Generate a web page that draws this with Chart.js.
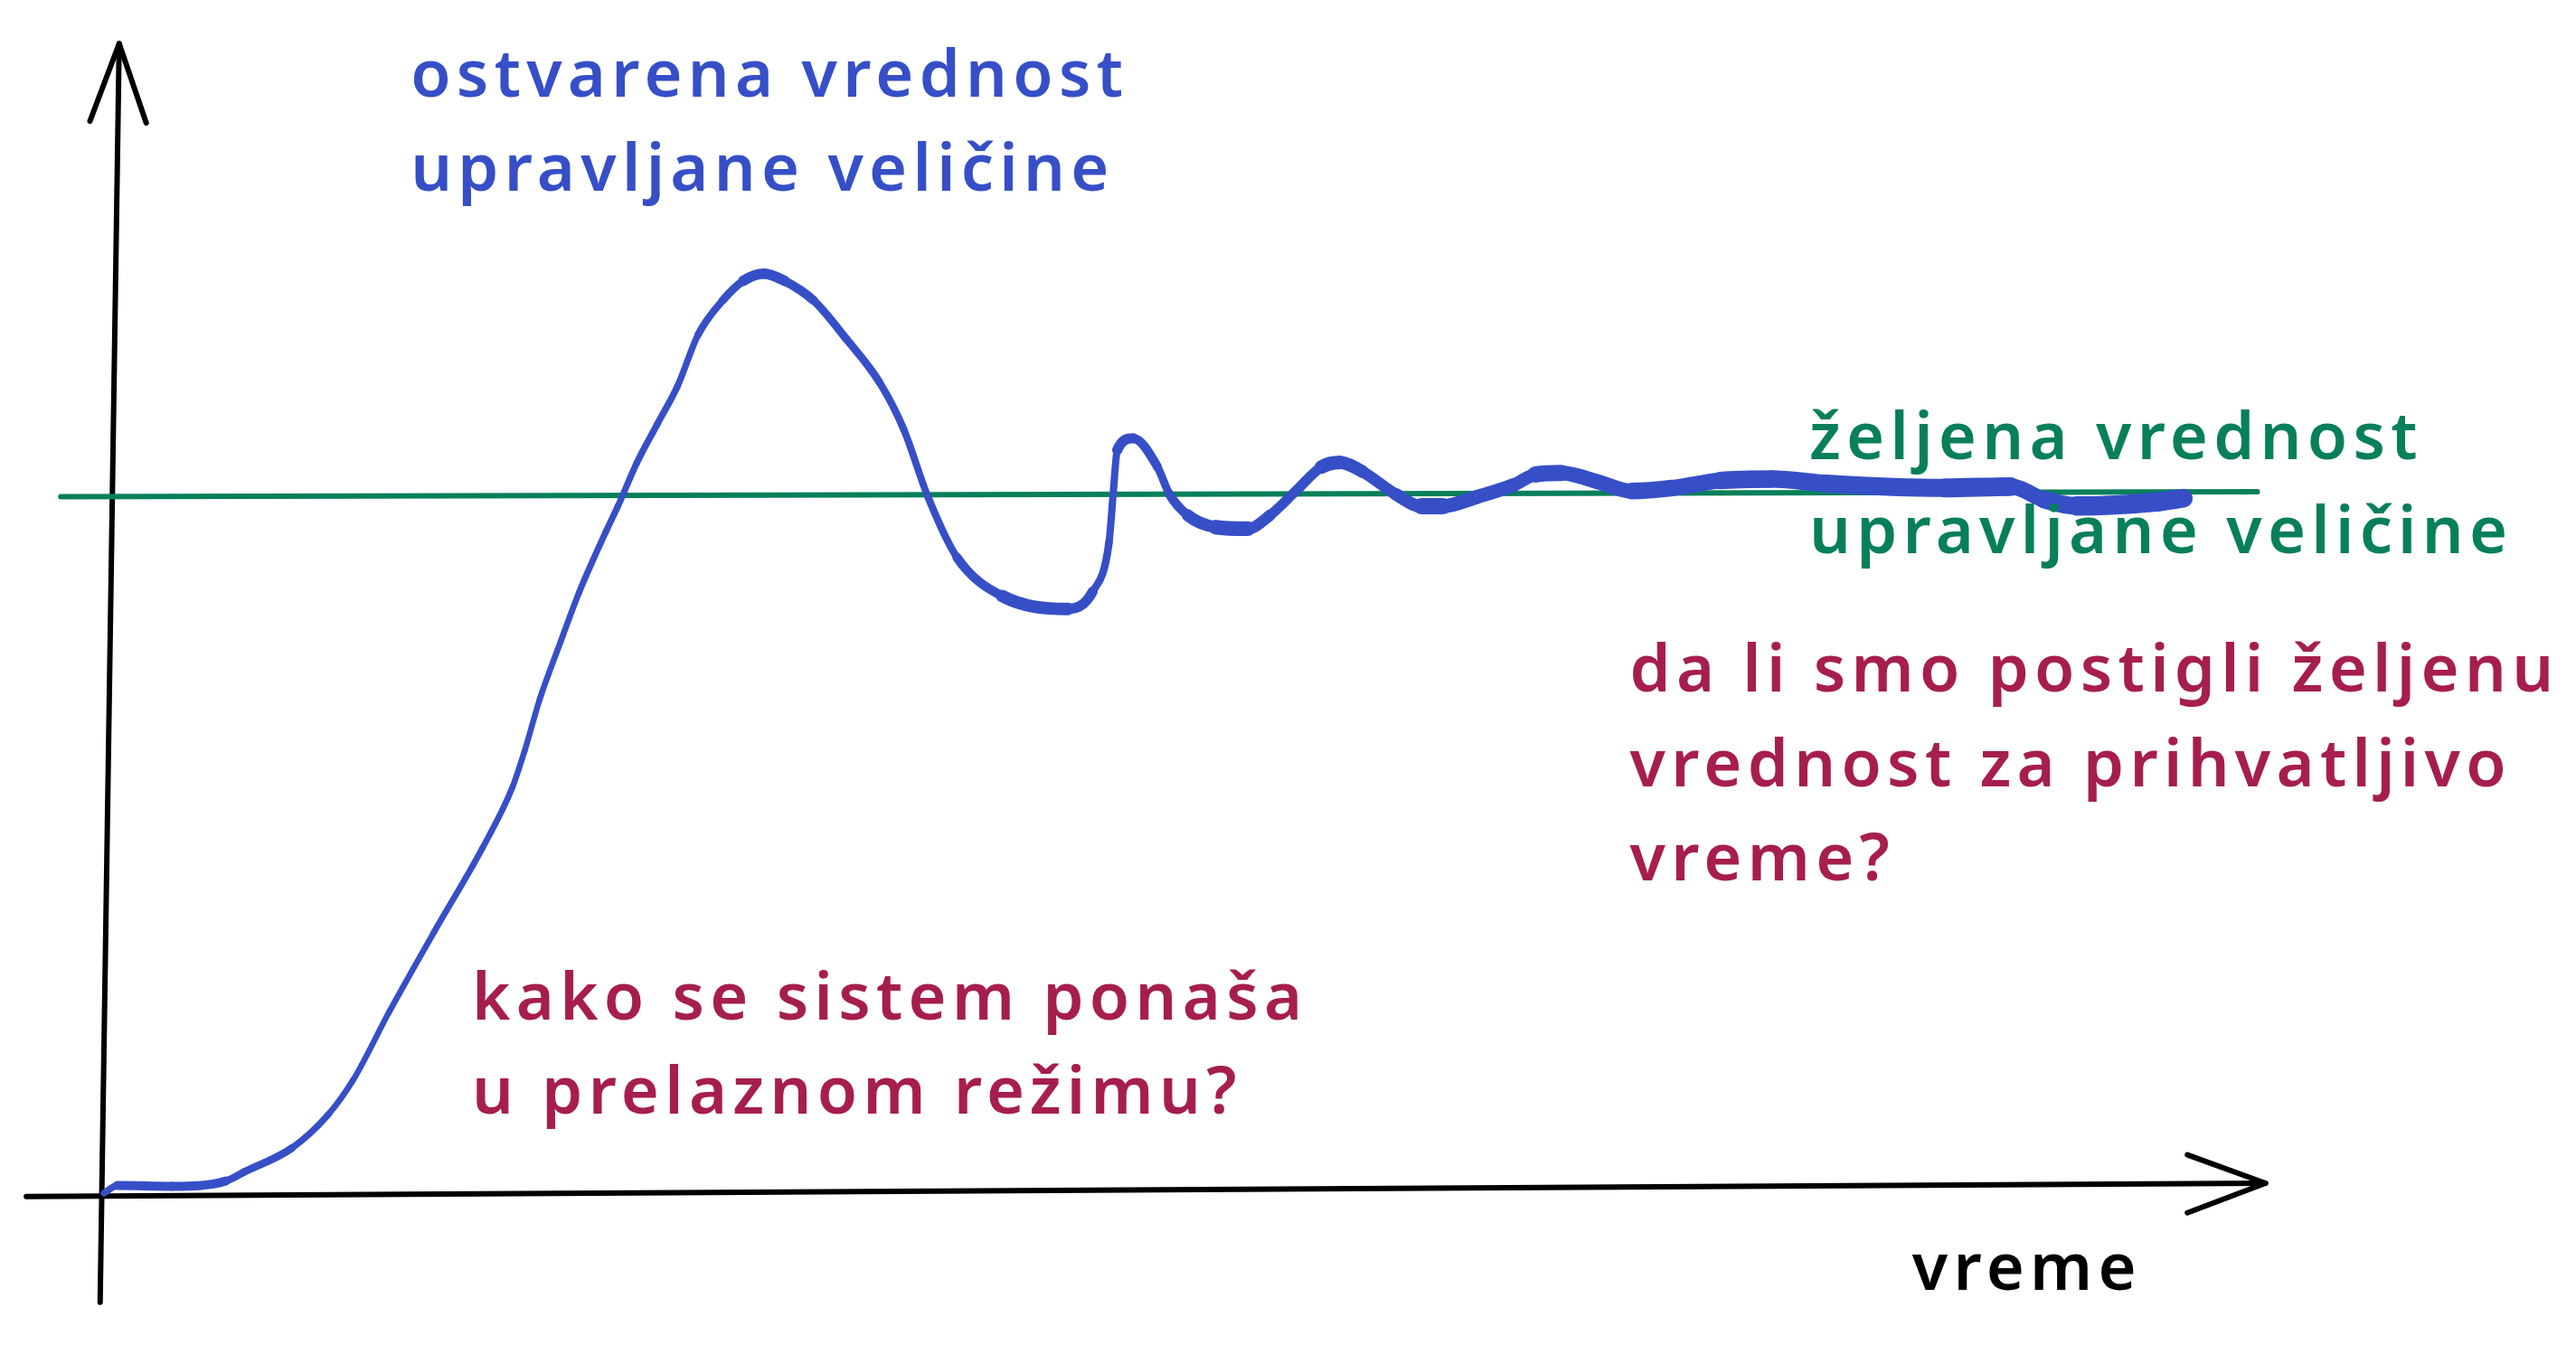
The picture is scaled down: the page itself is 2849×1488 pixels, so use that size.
<!DOCTYPE html>
<html><head><meta charset="utf-8">
<script src="https://cdn.jsdelivr.net/npm/chart.js@4.4.1/dist/chart.umd.min.js"></script>
<style>html,body{margin:0;padding:0;background:#fff;overflow:hidden}#wrap{width:2849px;height:1488px;position:relative;background:#fff}</style>
</head><body><div id="wrap"><canvas id="c"></canvas></div>
<script>
// ---- data (time in arbitrary units, arrow tip of time axis = 100; value in % of desired value) ----
const responseTime  = [0.10,0.72,3.24,5.74,6.58,8.79,10.48,11.62,13.27,15.35,17.58,18.98,19.53,20.23,21.20,22.04,23.29,23.85,24.72,25.66,26.61,27.56,28.70,29.65,30.60,31.55,32.88,34.40,35.92,37.05,38.19,39.52,41.61,44.65,45.79,46.55,46.74,46.93,47.67,48.79,49.34,50.18,51.48,52.96,53.99,55.18,56.37,57.22,58.25,59.79,60.97,62.00,63.53,65.24,66.26,67.46,69.17,70.70,72.57,74.79,77.18,79.70,85.19,88.23,89.75,91.27,95.06,96.20];
const responseValue = [0.35,1.43,1.31,2.09,3.38,6.81,11.64,16.55,26.20,37.65,49.62,58.40,63.47,70.87,79.15,86.08,94.86,98.54,104.69,110.21,115.73,123.08,127.98,130.75,131.78,130.75,127.98,122.46,116.34,109.60,99.79,91.22,85.70,83.85,86.31,93.38,100.26,106.57,108.24,104.13,100.26,97.25,95.54,95.31,97.25,100.70,104.13,104.79,103.50,100.26,98.54,98.54,99.84,101.55,103.08,103.29,102.00,100.70,101.13,102.21,102.42,101.78,101.15,101.34,99.48,98.57,99.18,99.67];
const setpointTime  = [-1.90, 99.62];
const setpointValue = [99.88, 100.59];
const xAxisTime  = [-3.49, 100.0];
const xAxisValue = [-0.14, 1.76];
const xArrowTime  = [96.39, 100.0, 96.39];
const xArrowValue = [5.82, 1.76, -2.46];
const yAxisTime  = [-0.08, 0.80];
const yAxisValue = [-15.26, 164.65];
const yArrowTime  = [-0.55, 0.80, 2.05];
const yArrowValue = [153.57, 164.65, 153.33];
const actualLabel       = ['ostvarena vrednost', 'upravljane veličine'];
const desiredLabel      = ['željena vrednost', 'upravljane veličine'];
const transientQuestion = ['kako se sistem ponaša', 'u prelaznom režimu?'];
const steadyQuestion    = ['da li smo postigli željenu', 'vrednost za prihvatljivo', 'vreme?'];
const timeAxisLabel     = ['vreme'];

// ---- styles / layout ----
const BLUE = '#364fc7', GREEN = '#087f5b', CRIMSON = '#a61e4d', BLACK = '#000000';
const FONT = '600 72px "Noto Sans", sans-serif', LETTER_SPACING = '6.3px', LINE_HEIGHT = 104.4;
const textBlocks = [
  {lines: actualLabel,       color: BLUE,    t: 14.27, v: 157.07},
  {lines: desiredLabel,      color: GREEN,   t: 78.91, v: 105.30},
  {lines: steadyQuestion,    color: CRIMSON, t: 70.62, v: 72.00},
  {lines: transientQuestion, color: CRIMSON, t: 17.11, v: 25.16},
  {lines: timeAxisLabel,     color: BLACK,   t: 83.67, v: -13.45}
];

const pts = (ts, vs) => ts.map((t, i) => ({x: t, y: vs[i]}));

const textPlugin = {
  id: 'handText',
  afterDatasetsDraw(chart) {
    const {ctx, scales: {x, y}} = chart;
    ctx.save();
    ctx.font = FONT;
    try { ctx.letterSpacing = LETTER_SPACING; } catch (e) {}
    ctx.textBaseline = 'alphabetic';
    ctx.textAlign = 'left';
    textBlocks.forEach(b => {
      const px = x.getPixelForValue(b.t), py = y.getPixelForValue(b.v);
      ctx.fillStyle = b.color;
      b.lines.forEach((line, i) => ctx.fillText(line, px, py + i * LINE_HEIGHT));
    });
    ctx.restore();
  }
};

const strokeDs = (data, color, width) => ({
  data, borderColor: color, borderWidth: width, pointRadius: 0, tension: 0,
  borderCapStyle: 'round', borderJoinStyle: 'round', fill: false
});

new Chart(document.getElementById('c'), {
  type: 'line',
  data: {
    datasets: [
      {
        data: pts(responseTime, responseValue),
        borderColor: BLUE, borderWidth: 12, pointRadius: 0, fill: false,
        cubicInterpolationMode: 'monotone',
        borderCapStyle: 'round', borderJoinStyle: 'round',
        segment: {
          borderWidth: c => {
            const t = responseTime[c.p0DataIndex] || 0;
            const dx = c.p1.x - c.p0.x, dy = c.p1.y - c.p0.y;
            const len = Math.hypot(dx, dy);
            const s = len > 0 ? Math.abs(dy) / len : 0;
            return (10 + 13 * t / 100) * (1 - 0.5 * s);
          }
        }
      },
      strokeDs(pts(setpointTime, setpointValue), GREEN, 6),
      strokeDs(pts(xAxisTime, xAxisValue), BLACK, 6),
      strokeDs(pts(xArrowTime, xArrowValue), BLACK, 6),
      strokeDs(pts(yAxisTime, yAxisValue), BLACK, 6),
      strokeDs(pts(yArrowTime, yArrowValue), BLACK, 6)
    ]
  },
  options: {
    responsive: true, maintainAspectRatio: false, animation: false, devicePixelRatio: 1,
    layout: {padding: 0},
    plugins: {legend: {display: false}, tooltip: {enabled: false}, title: {display: false}},
    scales: {
      x: {type: 'linear', display: false, min: -4.708, max: 114.35},
      y: {type: 'linear', display: false, min: -21.36, max: 170.89}
    }
  },
  plugins: [textPlugin]
});
</script>
</body></html>
